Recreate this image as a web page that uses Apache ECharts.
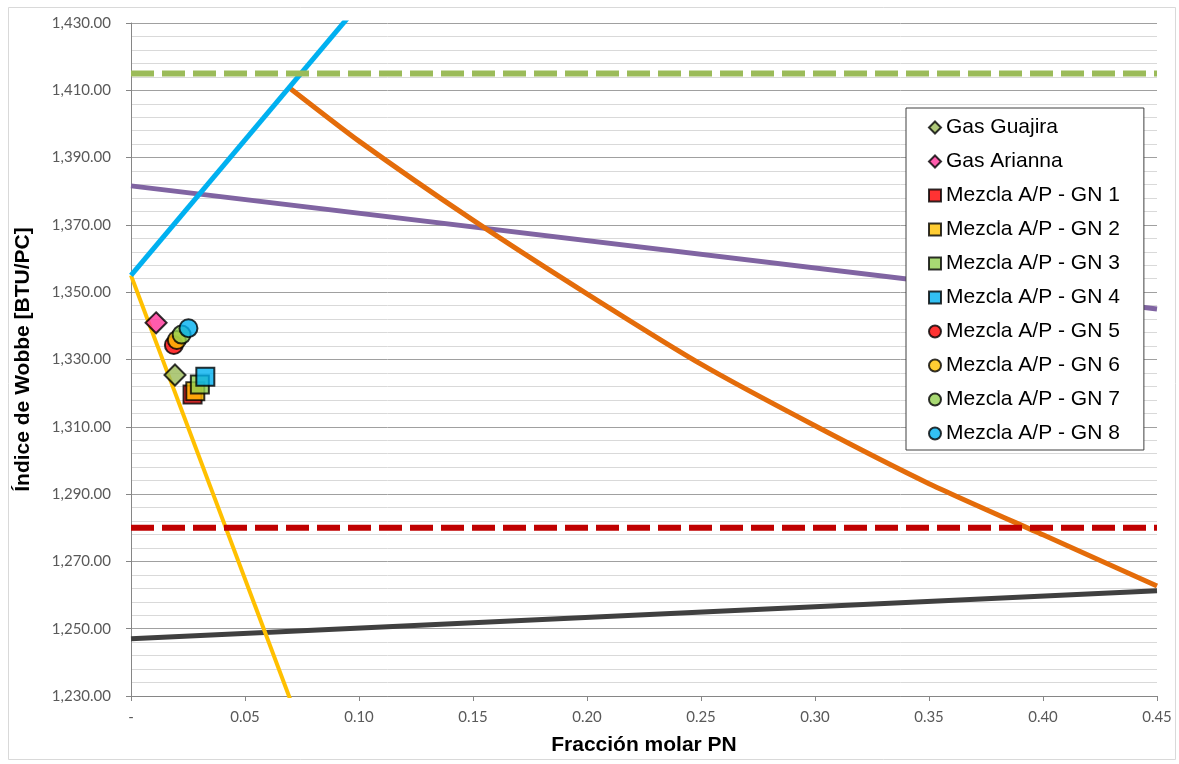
<!DOCTYPE html>
<html>
<head>
<meta charset="utf-8">
<script src="https://cdn.jsdelivr.net/npm/echarts@6/dist/echarts.min.js"></script>
<style>html,body{margin:0;padding:0;background:#fff}#c{width:1179px;height:764px}</style>
</head>
<body>
<div id="c"></div>
<script>
// ---- data ----
const xTicks = [0, 0.05, 0.10, 0.15, 0.20, 0.25, 0.30, 0.35, 0.40, 0.45];
const yTicks = [1230, 1250, 1270, 1290, 1310, 1330, 1350, 1370, 1390, 1410, 1430];

const limitUpper = [[0, 1415], [0.45, 1415]];       // green dashed
const limitLower = [[0, 1280], [0.45, 1280]];       // red dashed
const blueLine   = [[0, 1355], [0.10, 1435.5]];
const yellowLine = [[0, 1355], [0.07, 1228.7]];
const purpleLine = [[0, 1381.6], [0.45, 1345]];
const grayLine   = [[0, 1247], [0.45, 1261.3]];
const orangeLine = [[0.069, 1411], [0.10, 1394.9], [0.15, 1371.4], [0.20, 1349.5], [0.25, 1328.6], [0.30, 1310.3], [0.35, 1293.1], [0.40, 1277.9], [0.45, 1262.7]];

const pointNames = ['Gas Guajira', 'Gas Arianna',
  'Mezcla A/P - GN 1', 'Mezcla A/P - GN 2', 'Mezcla A/P - GN 3', 'Mezcla A/P - GN 4',
  'Mezcla A/P - GN 5', 'Mezcla A/P - GN 6', 'Mezcla A/P - GN 7', 'Mezcla A/P - GN 8'];
const pointX = [0.0193, 0.011, 0.0270, 0.0282, 0.0302, 0.0326, 0.0188, 0.0201, 0.0222, 0.0252];
const pointY = [1325.4, 1340.9, 1319.6, 1320.6, 1322.6, 1324.9, 1334.3, 1335.8, 1337.4, 1339.3];
const pointColors = ['#9BBB59', '#FF3399', '#FF0000', '#FFC000', '#92D050', '#00B0F0', '#FF0000', '#FFC000', '#92D050', '#00B0F0'];
const pointSymbols = ['diamond', 'diamond', 'rect', 'rect', 'rect', 'rect', 'circle', 'circle', 'circle', 'circle'];

// ---- chart ----
const chart = echarts.init(document.getElementById('c'), null, {renderer: 'canvas'});

function lineSeries(data, color, width, dash, z, smooth) {
  return {
    type: 'line', data: data, symbol: 'none', silent: true, clip: true, z: z || 2,
    smooth: smooth || false,
    lineStyle: {color: color, width: width, type: dash || 'solid', cap: 'butt'},
    legendHoverLink: false
  };
}

const series = [
  lineSeries(grayLine, '#404040', 5),
  lineSeries(purpleLine, '#8064A2', 5),
  lineSeries(orangeLine, '#E46C0A', 5, null, 2, 0.2),
  lineSeries(yellowLine, '#FFC000', 4),
  lineSeries(blueLine, '#00B0F0', 5),
  lineSeries(limitUpper, '#9BBB59', 6, [23, 8]),
  lineSeries(limitLower, '#C00000', 6, [23, 8])
];

pointNames.forEach((n, i) => {
  const sym = pointSymbols[i];
  series.push({
    type: 'scatter', name: n, z: 5,
    data: [[pointX[i], pointY[i]]],
    symbol: sym,
    symbolSize: sym === 'diamond' ? 21 : 18,
    itemStyle: {color: pointColors[i], borderColor: '#000', borderWidth: 2}
  });
});

const option = {
  animation: false,
  backgroundColor: '#fff',
  grid: {left: 131, right: 22, top: 23, bottom: 68, containLabel: false},
  xAxis: {
    type: 'value', min: 0, max: 0.45, interval: 0.05,
    name: 'Fracción molar PN', nameLocation: 'middle', nameGap: 39,
    nameTextStyle: {fontFamily: 'Liberation Sans', fontWeight: 'bold', fontSize: 21, color: '#000'},
    axisLine: {show: true, lineStyle: {color: '#868686', width: 1}},
    axisTick: {show: true, length: 5, lineStyle: {color: '#868686'}},
    splitLine: {show: false},
    axisLabel: {
      margin: 14, color: '#595959', fontFamily: 'Lato', fontSize: 15,
      formatter: v => (Math.abs(v) < 1e-9 ? '-' : v.toFixed(2))
    }
  },
  yAxis: {
    type: 'value', min: 1230, max: 1430, interval: 20,
    name: 'Índice de Wobbe [BTU/PC]', nameLocation: 'middle', nameGap: 97, nameRotate: 90,
    nameTextStyle: {fontFamily: 'Liberation Sans', fontWeight: 'bold', fontSize: 21, color: '#000'},
    axisLine: {show: true, lineStyle: {color: '#868686', width: 1}},
    axisTick: {show: true, length: 5, lineStyle: {color: '#868686'}},
    splitLine: {show: true, lineStyle: {color: '#A0A0A0', width: 1}},
    minorTick: {show: false, splitNumber: 5},
    minorSplitLine: {show: true, lineStyle: {color: '#D9D9D9', width: 1}},
    axisLabel: {
      margin: 20, color: '#595959', fontFamily: 'Lato', fontSize: 15,
      formatter: v => v.toLocaleString('en-US', {minimumFractionDigits: 2, maximumFractionDigits: 2})
    }
  },
  legend: {
    data: pointNames,
    orient: 'vertical', left: 906, top: 108,
    padding: [9, 24, 6, 22],
    itemWidth: 12, itemHeight: 12, itemGap: 13,
    backgroundColor: '#fff', borderColor: '#404040', borderWidth: 1,
    textStyle: {fontFamily: 'Liberation Sans', fontSize: 21, lineHeight: 21, color: '#000'},
    selectedMode: false
  },
  graphic: [{
    type: 'rect', left: 6, top: 5, z: -1,
    shape: {width: 1167, height: 752},
    style: {fill: 'none', stroke: '#D9D9D9', lineWidth: 1}
  }],
  series: series
};
chart.setOption(option);
</script>
</body>
</html>
